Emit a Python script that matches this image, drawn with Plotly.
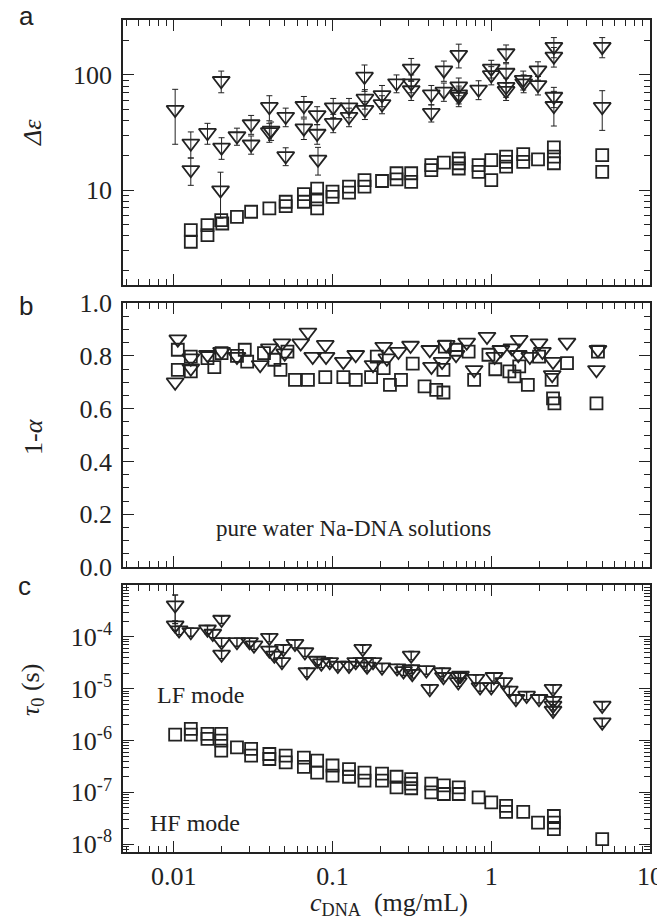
import plotly.graph_objects as go

# ---------------- data ----------------
# Panel a: dielectric strength (LF = triangles, HF = squares)
a_lf_x = [0.0102, 0.0128, 0.0128, 0.0163, 0.0199, 0.0200, 0.0197, 0.025, 0.0307, 0.0307,
          0.040, 0.040, 0.041, 0.0507, 0.0507, 0.066, 0.066, 0.080, 0.080, 0.081,
          0.101, 0.101, 0.127, 0.127, 0.159, 0.160, 0.160, 0.205, 0.205, 0.253,
          0.313, 0.313, 0.313, 0.419, 0.419, 0.503, 0.503, 0.624, 0.624, 0.624,
          0.624, 0.832, 1.0, 1.0, 1.24, 1.24, 1.24, 1.24, 1.59, 1.60,
          1.97, 1.97, 2.48, 2.48, 2.48, 2.48, 5.0, 5.0]
a_lf_y = [50, 25.5, 15, 31.5, 89, 23.5, 10, 29.5, 37.5, 25,
          53, 32, 33, 43.5, 19.8, 54, 34.5, 45, 31, 18.5,
          52.5, 38.5, 52.5, 43.5, 97, 62.5, 50, 67, 56, 85,
          114, 85, 74, 68, 47, 110, 72, 150, 80, 68,
          65, 75, 114, 100, 155, 105, 79, 73, 91, 85,
          110, 82, 176, 145, 65, 54, 176, 53]
a_lf_err = [25, 6.5, 4, 6.5, 19, 5, 4.3, 5, 7, 4.5,
            13, 6, 6, 8, 3.5, 11, 7, 8, 6, 5,
            10, 7, 10, 8, 25, 12, 9, 14, 10, 15,
            25, 15, 14, 13, 8, 22, 13, 35, 14, 12,
            12, 14, 20, 18, 27, 20, 15, 13, 17, 15,
            20, 15, 35, 28, 13, 18, 35, 20]
a_hf_x = [0.0128, 0.0128, 0.0163, 0.0163, 0.0199, 0.0202, 0.025, 0.0307, 0.040, 0.0507,
          0.0507, 0.066, 0.066, 0.080, 0.080, 0.080, 0.100, 0.100, 0.127, 0.127,
          0.159, 0.159, 0.205, 0.253, 0.253, 0.313, 0.313, 0.419, 0.419, 0.503,
          0.624, 0.624, 0.624, 0.832, 0.832, 1.0, 1.0, 1.24, 1.24, 1.24,
          1.59, 1.59, 1.97, 2.48, 2.48, 2.48, 5.0, 5.0]
a_hf_y = [4.5, 3.56, 4.97, 4.06, 5.49, 5.13, 5.86, 6.49, 6.93, 7.92,
          7.27, 9.23, 7.92, 10.3, 8.3, 6.93, 9.7, 8.75, 10.7, 9.5,
          12.2, 10.7, 12.0, 14.0, 12.4, 14.0, 11.8, 16.5, 14.9, 17.3,
          18.8, 17.1, 15.4, 16.5, 14.4, 18.2, 12.2, 19.5, 17.6, 16.0,
          20.5, 17.6, 18.5, 23.5, 19.5, 17.1, 20.1, 14.4]

# Panel b: 1-alpha
b_lf_x = [0.0106, 0.0102, 0.0128, 0.0128, 0.0163, 0.020, 0.025, 0.035, 0.040, 0.048,
          0.050, 0.063, 0.070, 0.075, 0.090, 0.091, 0.117, 0.140, 0.180, 0.210,
          0.220, 0.260, 0.310, 0.410, 0.420, 0.490, 0.520, 0.600, 0.700, 0.780,
          0.940, 1.05, 1.15, 1.35, 1.50, 1.48, 1.75, 2.00, 2.10, 2.45,
          2.42, 3.00, 4.60, 4.70]
b_lf_y = [0.863, 0.700, 0.791, 0.753, 0.804, 0.816, 0.797, 0.766, 0.829, 0.848,
          0.810, 0.848, 0.889, 0.797, 0.842, 0.797, 0.778, 0.804, 0.766, 0.835,
          0.791, 0.816, 0.839, 0.823, 0.759, 0.778, 0.842, 0.804, 0.851, 0.747,
          0.873, 0.797, 0.823, 0.829, 0.861, 0.804, 0.797, 0.848, 0.816, 0.778,
          0.728, 0.851, 0.747, 0.823]
b_hf_x = [0.0106, 0.0106, 0.0128, 0.0128, 0.0163, 0.018, 0.020, 0.025, 0.028, 0.029,
          0.037, 0.043, 0.047, 0.052, 0.058, 0.070, 0.090, 0.117, 0.140, 0.175,
          0.190, 0.210, 0.230, 0.270, 0.320, 0.380, 0.450, 0.500, 0.500, 0.510,
          0.600, 0.720, 0.780, 0.960, 1.06, 1.30, 1.40, 1.50, 1.70, 2.00,
          2.40, 2.45, 2.50, 3.00, 4.60, 4.70]
b_hf_y = [0.823, 0.747, 0.741, 0.797, 0.791, 0.757, 0.810, 0.800, 0.823, 0.778,
          0.810, 0.785, 0.747, 0.816, 0.709, 0.709, 0.719, 0.719, 0.709, 0.719,
          0.797, 0.753, 0.690, 0.709, 0.770, 0.684, 0.671, 0.661, 0.747, 0.835,
          0.823, 0.816, 0.709, 0.804, 0.749, 0.741, 0.722, 0.760, 0.690, 0.797,
          0.709, 0.639, 0.620, 0.772, 0.620, 0.816]

# Panel c: relaxation time tau_0 (s)
c_lf_x = [0.0102, 0.0102, 0.0108, 0.0128, 0.0163, 0.0176, 0.020, 0.020, 0.020, 0.025,
          0.030, 0.032, 0.040, 0.040, 0.043, 0.048, 0.049, 0.058, 0.067, 0.069,
          0.080, 0.085, 0.096, 0.108, 0.127, 0.140, 0.155, 0.158, 0.165, 0.180,
          0.205, 0.255, 0.280, 0.313, 0.313, 0.318, 0.390, 0.410, 0.490, 0.500,
          0.620, 0.620, 0.640, 0.800, 0.850, 1.00, 1.04, 1.20, 1.30, 1.43,
          1.67, 2.00, 2.45, 2.45, 2.45, 2.45, 5.0, 5.0]
c_lf_y = [4.1e-4, 1.68e-4, 1.35e-4, 1.25e-4, 1.4e-4, 1.16e-4, 2.16e-4, 8e-5, 4.6e-5, 8e-5,
          8e-5, 6.9e-5, 9.7e-5, 5.5e-5, 4.4e-5, 3.3e-5, 5.9e-5, 7.4e-5, 5.1e-5, 2.1e-5,
          3.5e-5, 3.1e-5, 3.3e-5, 2.8e-5, 2.8e-5, 3.3e-5, 5.9e-5, 3.3e-5, 2.7e-5, 3.3e-5,
          2.6e-5, 2.5e-5, 2.2e-5, 4.4e-5, 2.4e-5, 1.95e-5, 2.3e-5, 1.0e-5, 2.1e-5, 1.7e-5,
          1.7e-5, 1.35e-5, 1.8e-5, 1.56e-5, 1.08e-5, 1.08e-5, 1.7e-5, 1.35e-5, 9.3e-6, 6.4e-6,
          7.4e-6, 6.4e-6, 1.0e-5, 5.9e-6, 4.75e-6, 3.8e-6, 4.75e-6, 2.26e-6]
c_lf_err = [2.3e-4, 3.5e-5, 2.5e-5, 2.2e-5, 2.5e-5, 2e-5, 3.5e-5, 1.4e-5, 8e-6, 1.4e-5,
            1.4e-5, 1.2e-5, 1.7e-5, 1e-5, 8e-6, 6e-6, 1e-5, 1.3e-5, 9e-6, 4e-6,
            6e-6, 5.5e-6, 6e-6, 5e-6, 5e-6, 6e-6, 1e-5, 6e-6, 5e-6, 6e-6,
            4.5e-6, 4.5e-6, 4e-6, 8e-6, 4.3e-6, 3.5e-6, 4e-6, 1.8e-6, 3.8e-6, 3e-6,
            3e-6, 2.4e-6, 3.2e-6, 2.8e-6, 1.9e-6, 1.9e-6, 3e-6, 2.4e-6, 1.7e-6, 1.1e-6,
            1.3e-6, 1.1e-6, 1.8e-6, 1e-6, 8.5e-7, 7e-7, 8.5e-7, 4e-7]
c_hf_x = [0.0102, 0.0128, 0.0128, 0.0163, 0.0163, 0.0199, 0.0199, 0.0199, 0.025, 0.0307,
          0.0307, 0.040, 0.040, 0.0507, 0.0507, 0.066, 0.066, 0.080, 0.080, 0.100,
          0.100, 0.127, 0.127, 0.159, 0.159, 0.205, 0.205, 0.253, 0.253, 0.313,
          0.313, 0.313, 0.419, 0.419, 0.503, 0.503, 0.624, 0.624, 0.832, 1.0,
          1.24, 1.24, 1.59, 1.97, 2.48, 2.48, 2.48, 5.0]
c_hf_y = [1.3e-6, 1.68e-6, 1.3e-6, 1.35e-6, 1.08e-6, 1.35e-6, 1.0e-6, 6.4e-7, 7.4e-7, 6.9e-7,
          5.1e-7, 5.5e-7, 4.4e-7, 5.1e-7, 3.8e-7, 4.7e-7, 3.1e-7, 4.1e-7, 2.4e-7, 3.3e-7,
          2.1e-7, 2.8e-7, 2.0e-7, 2.4e-7, 1.68e-7, 2.3e-7, 1.68e-7, 2.0e-7, 1.25e-7, 1.8e-7,
          1.48e-7, 1.2e-7, 1.48e-7, 1.0e-7, 1.37e-7, 9.3e-8, 1.25e-7, 9.3e-8, 8.0e-8, 6.4e-8,
          5.5e-8, 4.2e-8, 4.2e-8, 2.6e-8, 3.5e-8, 2.6e-8, 1.95e-8, 1.25e-8]

x_tickvals = [0.01, 0.1, 1, 10]
x_ticktext = ["0.01", "0.1", "1", "10"]
a_tickvals = [10, 100]
a_ticktext = ["10", "100"]
b_tickvals = [0.0, 0.2, 0.4, 0.6, 0.8, 1.0]
b_ticktext = ["0.0", "0.2", "0.4", "0.6", "0.8", "1.0"]
c_tickvals = [1e-8, 1e-7, 1e-6, 1e-5, 1e-4]
c_ticktext = ["10<sup>-8</sup>", "10<sup>-7</sup>", "10<sup>-6</sup>", "10<sup>-5</sup>", "10<sup>-4</sup>"]

# ---------------- style ----------------
# the page body adds an 8 px margin, so the figure is made 8 px smaller
OFF = 8
W, H = 665 - OFF, 922 - OFF
L, R, T, B = 123 - OFF, 15, 20 - OFF, 70
PW, PH = W - L - R, H - T - B
INK = "#222222"
SERIF = "Liberation Serif"
SANS = "Liberation Sans"
FS = 26


def px(xp):
    # window pixel -> paper fraction
    return (xp - 123) / PW


def py(yp):
    return (852 - yp) / PH


def log_minor(lo_dec, hi_dec):
    vals = []
    for d in range(lo_dec, hi_dec + 1):
        for m in range(2, 10):
            vals.append(m * 10 ** d)
    return vals


tri = dict(symbol="triangle-down-open", size=15, color=INK, line=dict(width=1.8, color=INK))
sq = dict(symbol="square-open", size=12, color=INK, line=dict(width=1.8, color=INK))

fig = go.Figure()
# panel a -> xaxis3 / yaxis3 ; panel b -> xaxis2 / yaxis2 ; panel c -> xaxis / yaxis
fig.add_trace(go.Scatter(x=a_lf_x, y=a_lf_y, mode="markers", marker=tri, xaxis="x3", yaxis="y3",
                         error_y=dict(type="data", array=a_lf_err, color=INK, thickness=1, width=3)))
fig.add_trace(go.Scatter(x=a_hf_x, y=a_hf_y, mode="markers", marker=sq, xaxis="x3", yaxis="y3"))
fig.add_trace(go.Scatter(x=b_hf_x, y=b_hf_y, mode="markers", marker=sq, xaxis="x2", yaxis="y2"))
fig.add_trace(go.Scatter(x=b_lf_x, y=b_lf_y, mode="markers", marker=tri, xaxis="x2", yaxis="y2"))
fig.add_trace(go.Scatter(x=c_lf_x, y=c_lf_y, mode="markers", marker=tri, xaxis="x", yaxis="y",
                         error_y=dict(type="data", array=c_lf_err, color=INK, thickness=1.4, width=3)))
fig.add_trace(go.Scatter(x=c_hf_x, y=c_hf_y, mode="markers", marker=sq, xaxis="x", yaxis="y"))

tickfont = dict(family=SERIF, size=FS, color=INK)
common = dict(showline=True, linecolor=INK, linewidth=1.6, mirror="ticks", ticks="inside",
              ticklen=11, tickwidth=1.3, tickcolor=INK, showgrid=False, zeroline=False,
              tickfont=tickfont, automargin=False)

xcommon = dict(common, type="log", range=[-2.32, 1.0], tickmode="array",
               tickvals=x_tickvals, ticktext=x_ticktext,
               minor=dict(ticks="inside", ticklen=6, tickwidth=1.1, tickcolor=INK,
                          tickmode="array", tickvals=log_minor(-3, 1), showgrid=False))

fig.update_layout(
    width=W, height=H, margin=dict(l=L, r=R, t=T, b=B, autoexpand=False),
    font=dict(family=SERIF, size=FS, color=INK),
    paper_bgcolor="white", plot_bgcolor="white", showlegend=False,
    xaxis=dict(xcommon, domain=[0, 1], anchor="y", showticklabels=True),
    xaxis2=dict(xcommon, domain=[0, 1], anchor="y2", matches="x", showticklabels=False),
    xaxis3=dict(xcommon, domain=[0, 1], anchor="y3", matches="x", showticklabels=False),
    yaxis=dict(common, type="log", range=[-8.15, -3.0], domain=[0, py(585)], anchor="x",
               tickmode="array", tickvals=c_tickvals, ticktext=c_ticktext, ticklabelstandoff=4,
               minor=dict(ticks="inside", ticklen=6, tickwidth=1.1, tickcolor=INK,
                          tickmode="array", tickvals=log_minor(-9, -4), showgrid=False)),
    yaxis2=dict(common, type="linear", range=[0, 1.0], domain=[py(567), py(303)], anchor="x2",
                tickmode="array", tickvals=b_tickvals, ticktext=b_ticktext, ticklabelstandoff=4,
                minor=dict(ticks="inside", ticklen=6, tickwidth=1.1, tickcolor=INK,
                           dtick=0.05, showgrid=False)),
    yaxis3=dict(common, type="log", range=[0.176, 2.477], domain=[py(285), 1.0], anchor="x3",
                tickmode="array", tickvals=a_tickvals, ticktext=a_ticktext, ticklabelstandoff=4,
                minor=dict(ticks="inside", ticklen=6, tickwidth=1.1, tickcolor=INK,
                           tickmode="array", tickvals=log_minor(0, 2), showgrid=False)),
)

ann = []


def add_text(text, xp, yp, size=FS, family=SERIF, angle=0):
    ann.append(dict(text=text, x=px(xp), y=py(yp), xref="paper", yref="paper",
                    xanchor="center", yanchor="middle", showarrow=False, textangle=angle,
                    font=dict(family=family, size=size, color=INK)))


add_text("a", 26, 16, size=26, family=SANS)
add_text("b", 26, 306, size=26, family=SANS)
add_text("c", 24, 586, size=26, family=SANS)
add_text("<i>Δε</i>", 32, 133, angle=-90)
add_text("1-<i>α</i>", 33, 437, angle=-90)
add_text("<i>τ</i><sub>0</sub> (s)", 32, 690, angle=-90)
add_text("<i>c</i><sub>DNA</sub>  (mg/mL)", 389, 904)
add_text("pure water Na-DNA solutions", 353, 528, size=23)
add_text("LF mode", 200, 695, size=24)
add_text("HF mode", 195, 823, size=24)
fig.update_layout(annotations=ann)

fig.write_html("out.html")
